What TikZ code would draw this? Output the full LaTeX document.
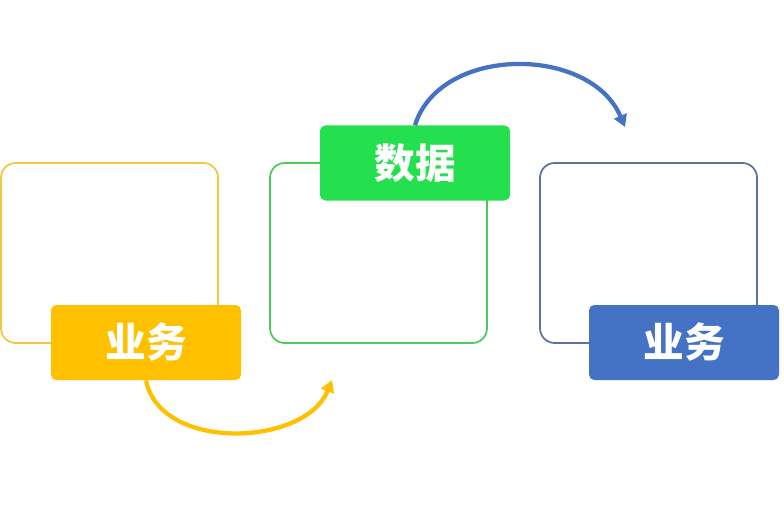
\documentclass[tikz,border=0pt]{standalone}
\usepackage{fontspec}
\newfontfamily\cjk{Noto Sans CJK SC}
\usetikzlibrary{arrows.meta}
\definecolor{yfr}{HTML}{F2C744}
\definecolor{yfill}{HTML}{FFC000}
\definecolor{gfr}{HTML}{4DC95E}
\definecolor{gfill}{HTML}{25E04E}
\definecolor{bfr}{HTML}{5A73A0}
\definecolor{bfill}{HTML}{4472C4}
\tikzset{
  frame/.style={draw, line width=1.3pt, rounded corners=11pt, minimum width=162.75pt, minimum height=135pt, inner sep=0pt},
  label/.style={rounded corners=4pt, minimum width=142.5pt, minimum height=56.25pt, inner sep=0pt, text=white, font=\cjk\bfseries\fontsize{30.5}{30.5}\selectfont},
  flow/.style={line width=3.2pt, -{Triangle[length=9pt,width=10pt]}}
}
\begin{document}
\begin{tikzpicture}[x=0.75pt,y=-0.75pt]
\useasboundingbox (0,0) rectangle (784,506);
\node[frame, draw=yfr] (f1) at (109.5,253) {};
\node[frame, draw=gfr] (f2) at (378.5,253) {};
\node[frame, draw=bfr] (f3) at (648.5,253) {};
\node[label, fill=yfill] (l1) at (146,342.5) {业务};
\node[label, fill=gfill] (l2) at (415,163) {数据};
\node[label, fill=bfill] (l3) at (684,342.5) {业务};
\coordinate (e1) at (332,380);
\coordinate (e2) at (625,127);
\draw[flow, yfill] (l1.south) .. controls (160,452) and (305,447) .. (e1);
\draw[flow, bfill] (l2.north) .. controls (440,45) and (590,45) .. (e2);
\end{tikzpicture}
\end{document}
